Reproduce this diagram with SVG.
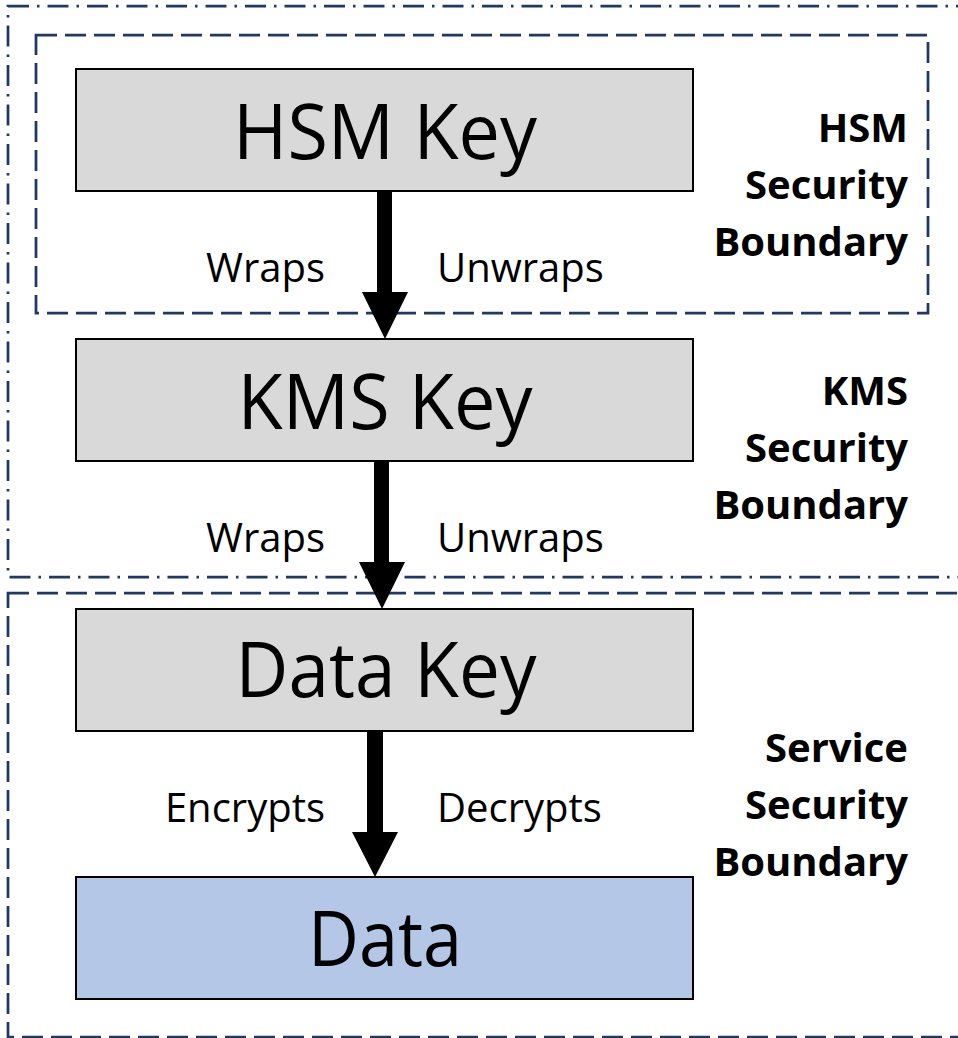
<svg xmlns="http://www.w3.org/2000/svg" width="958" height="1038" viewBox="0 0 958 1038">
  <defs>
    <style>
      .boundary { fill: none; stroke: #1f3864; stroke-width: 2.75; }
      .dashed { stroke-dasharray: 21 8; }
      .dashdot { stroke-dasharray: 21 8 2.5 8; }
      .key { fill: #d9d9d9; stroke: #000; stroke-width: 2; }
      .data { fill: #b4c7e7; stroke: #000; stroke-width: 2; }
      .big { font-family: "Open Sans", "Liberation Sans", sans-serif; font-size: 76px; fill: #000; text-anchor: middle; }
      .verb { font-family: "Open Sans", "Liberation Sans", sans-serif; font-size: 40px; fill: #000; }
      .zone { font-family: "Open Sans", "Liberation Sans", sans-serif; font-size: 40px; font-weight: bold; fill: #000; text-anchor: end; }
      .arrow { fill: #000; }
    </style>
  </defs>

  <rect width="958" height="1038" fill="#fff"/>

  <!-- Security boundaries -->
  <g id="kms-boundary">
    <rect class="boundary dashdot" x="8" y="6" width="970" height="571"/>
    <text class="zone" x="908" y="405">KMS</text>
    <text class="zone" x="908" y="462">Security</text>
    <text class="zone" x="908" y="519">Boundary</text>
  </g>
  <g id="hsm-boundary">
    <rect class="boundary dashed" x="36" y="35" width="892" height="278"/>
    <text class="zone" x="908" y="142">HSM</text>
    <text class="zone" x="908" y="199">Security</text>
    <text class="zone" x="908" y="256">Boundary</text>
  </g>
  <g id="service-boundary">
    <rect class="boundary dashed" x="8" y="593" width="970" height="444"/>
    <text class="zone" x="908" y="762">Service</text>
    <text class="zone" x="908" y="819">Security</text>
    <text class="zone" x="908" y="876">Boundary</text>
  </g>

  <!-- Key hierarchy -->
  <g id="hsm-key">
    <rect class="key" x="76" y="69" width="617" height="122"/>
    <text class="big" x="385" y="159" textLength="304" lengthAdjust="spacingAndGlyphs">HSM Key</text>
  </g>
  <g id="kms-key">
    <rect class="key" x="76" y="339" width="617" height="122"/>
    <text class="big" x="385" y="429" textLength="295" lengthAdjust="spacingAndGlyphs">KMS Key</text>
  </g>
  <g id="data-key">
    <rect class="key" x="76" y="609" width="617" height="122"/>
    <text class="big" x="386" y="697" textLength="301" lengthAdjust="spacingAndGlyphs">Data Key</text>
  </g>
  <g id="data">
    <rect class="data" x="76" y="877" width="617" height="122"/>
    <text class="big" x="385" y="966" textLength="154" lengthAdjust="spacingAndGlyphs">Data</text>
  </g>

  <!-- Connectors -->
  <g id="connectors">
    <polygon class="arrow" points="377,192 392,192 392,292 408,292 385,339 362,292 377,292"/>
    <polygon class="arrow" points="374,462 389,462 389,562 405,562 382,609 359,562 374,562"/>
    <polygon class="arrow" points="367,732 383,732 383,832 398,832 375,877 352,832 367,832"/>
    <text class="verb" x="325" y="282" text-anchor="end">Wraps</text>
    <text class="verb" x="437" y="282">Unwraps</text>
    <text class="verb" x="325" y="552" text-anchor="end">Wraps</text>
    <text class="verb" x="437" y="552">Unwraps</text>
    <text class="verb" x="325" y="822" text-anchor="end">Encrypts</text>
    <text class="verb" x="437" y="822">Decrypts</text>
  </g>
</svg>
